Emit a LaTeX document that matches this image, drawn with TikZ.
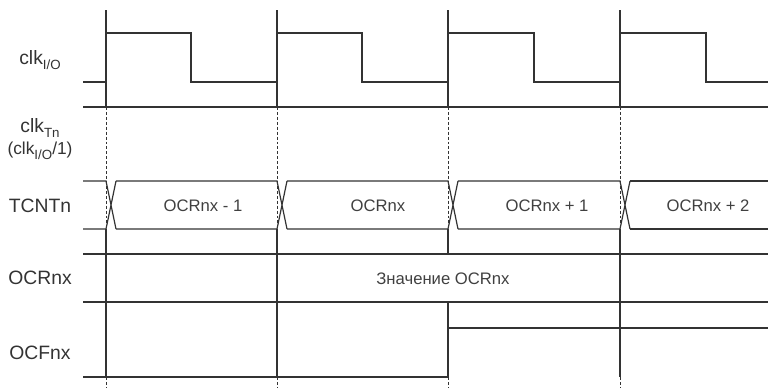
\documentclass[tikz,border=0pt]{standalone}
\usepackage{fontspec}
\setmainfont{Liberation Sans}
\usepackage{tikz}
\newcommand{\lowsub}[1]{\raisebox{-0.5ex}{\fontsize{10}{10}\selectfont #1}}

\begin{document}
\begin{tikzpicture}[
  x=0.75pt, y=-0.75pt,
  wave/.style={draw=black!80, line width=0.9pt},
  guide/.style={draw=black!80, line width=0.8pt},
  guidedash/.style={draw=black!80, line width=0.7pt, dash pattern=on 2.2pt off 1.5pt},
  siglabel/.style={font=\fontsize{14.5}{16}\selectfont, text=black!80},
  value/.style={font=\fontsize{12.5}{14}\selectfont, text=black!75}
]
  \useasboundingbox (0,0) rectangle (768,387);

  \node[siglabel] (clkio)  at (40,60)  {clk\lowsub{I/O}};
  \node[siglabel] (clktn)  at (40,128) {clk\lowsub{Tn}};
  \node[siglabel, font=\fontsize{13}{14}\selectfont] (clkdiv) at (40,151) {(clk\lowsub{I/O}/1)};
  \node[siglabel] (tcnt)   at (40,206) {TCNTn};
  \node[siglabel] (ocr)    at (40,278) {OCRnx};
  \node[siglabel] (ocf)    at (40,353) {OCFnx};

  \draw[wave] (83,82) -- (106,82) -- (106,33) -- (191,33) -- (191,82) -- (277,82)
    -- (277,33) -- (362,33) -- (362,82) -- (448,82) -- (448,33) -- (534,33) -- (534,82)
    -- (620,82) -- (620,33) -- (706,33) -- (706,82) -- (768,82);
  \draw[wave] (83,107) -- (768,107);

  \foreach \t in {106,277,448,620} {
    \draw[guide] (\t,10) -- (\t,107);
    \draw[guidedash] (\t,107) -- (\t,229);
    \draw[guidedash] (\t,377) -- (\t,387);
  }
  \foreach \t in {106,277,620}
    \draw[guide] (\t,229) -- (\t,377);
  \draw[guide] (448,229) -- (448,254) (448,302) -- (448,377);

  \draw[wave] (83,181) -- (106,181) -- (116,229) (83,229) -- (106,229) -- (116,181);
  \foreach \a/\b in {106/277,277/448,448/620}
    \draw[wave] (\a+10,181) -- (\b,181) -- (\b+10,229) (\a+10,229) -- (\b,229) -- (\b+10,181);
  \draw[wave] (630,181) -- (768,181) (630,229) -- (768,229);

  \draw[wave] (83,254) -- (768,254) (83,302) -- (768,302);
  \draw[wave] (83,377) -- (448,377) -- (448,328) -- (768,328);

  \node[value] (cnt0) at (203,206) {OCRnx - 1};
  \node[value] (cnt1) at (378,206) {OCRnx};
  \node[value] (cnt2) at (547,206) {OCRnx + 1};
  \node[value] (cnt3) at (708,206) {OCRnx + 2};
  \node[value] (ocrval) at (443,279) {Значение OCRnx};
\end{tikzpicture}
\end{document}
